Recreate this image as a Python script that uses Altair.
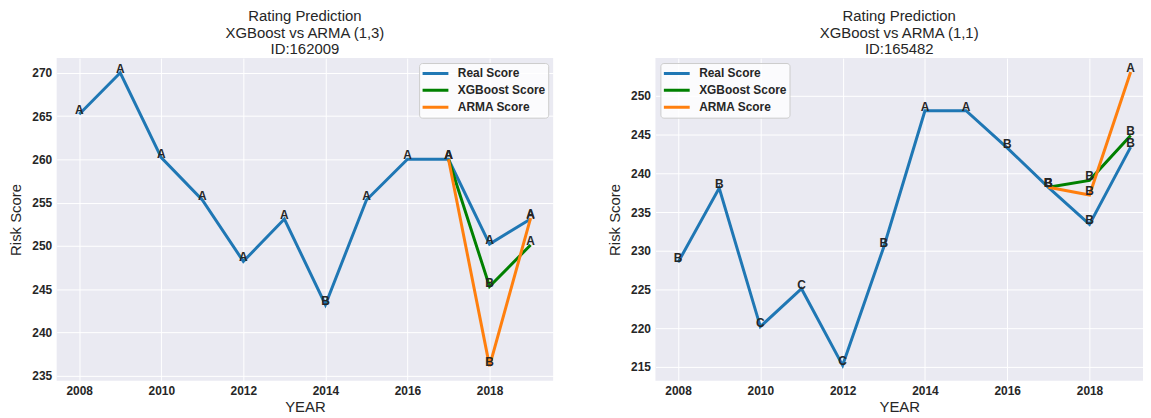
import altair as alt
import pandas as pd

SERIES = ["Real Score", "XGBoost Score", "ARMA Score"]
COLORS = ["#1f77b4", "#008000", "#ff7f0e"]

years = [2008, 2009, 2010, 2011, 2012, 2013, 2014, 2015, 2016, 2017, 2018, 2019]
pred_years = [2017, 2018, 2019]

# Left panel: ID 162009
left_real = [265.2, 270.0, 260.2, 255.3, 248.2, 253.1, 243.2, 255.3, 260.0, 260.0, 250.2, 253.1]
left_real_labels = ["A", "A", "A", "A", "A", "A", "B", "A", "A", "A", "A", "A"]
left_xgb = [260.0, 245.3, 250.1]
left_xgb_labels = ["A", "B", "A"]
left_arma = [260.0, 236.1, 253.2]
left_arma_labels = ["A", "B", "A"]
left_title = ["Rating Prediction", "XGBoost vs ARMA (1,3)", "ID:162009"]
left_yticks = [235, 240, 245, 250, 255, 260, 265, 270]

# Right panel: ID 165482
right_real = [228.5, 238.1, 220.2, 225.1, 215.2, 230.5, 248.1, 248.1, 243.3, 238.2, 233.4, 243.4]
right_real_labels = ["B", "B", "C", "C", "C", "B", "A", "A", "B", "B", "B", "B"]
right_xgb = [238.2, 239.1, 244.9]
right_xgb_labels = ["B", "B", "B"]
right_arma = [238.2, 237.2, 253.1]
right_arma_labels = ["B", "B", "A"]
right_title = ["Rating Prediction", "XGBoost vs ARMA (1,1)", "ID:165482"]
right_yticks = [215, 220, 225, 230, 235, 240, 245, 250]

x_ticks = [2008, 2010, 2012, 2014, 2016, 2018]
FONT = "Liberation Sans"


def panel(real, real_lab, xgb, xgb_lab, arma, arma_lab, ydom, yticks, xdom,
          title, orient, width):
    rows = []
    for yr, v, l in zip(years, real, real_lab):
        rows.append({"year": yr, "value": v, "label": l, "series": SERIES[0]})
    for yr, v, l in zip(pred_years, xgb, xgb_lab):
        rows.append({"year": yr, "value": v, "label": l, "series": SERIES[1]})
    for yr, v, l in zip(pred_years, arma, arma_lab):
        rows.append({"year": yr, "value": v, "label": l, "series": SERIES[2]})
    df = pd.DataFrame(rows)

    x = alt.X("year:Q", scale=alt.Scale(domain=xdom, nice=False, zero=False),
              axis=alt.Axis(values=x_ticks, format="d", title="YEAR"))
    y = alt.Y("value:Q", scale=alt.Scale(domain=ydom, nice=False, zero=False),
              axis=alt.Axis(values=yticks, title="Risk Score"))
    color = alt.Color("series:N",
                      scale=alt.Scale(domain=SERIES, range=COLORS),
                      legend=alt.Legend(orient=orient, title=None, offset=5))
    layers = []
    for s in SERIES:
        layers.append(
            alt.Chart(df).transform_filter(alt.datum.series == s)
            .mark_line(strokeWidth=3)
            .encode(x=x, y=y, color=color)
        )
    text = alt.Chart(df).mark_text(
        font=FONT, fontSize=12, fontWeight="bold", color="#262626",
        baseline="alphabetic", dy=0
    ).encode(x=x, y=y, text="label:N")
    return alt.layer(*layers, text).properties(
        width=width, height=325,
        title=alt.TitleParams(text=title, fontSize=15, font=FONT,
                              fontWeight="normal", color="#262626",
                              lineHeight=16.5, anchor="middle", offset=1),
    )


left = panel(left_real, left_real_labels, left_xgb, left_xgb_labels,
             left_arma, left_arma_labels, [234.4, 271.7], left_yticks,
             [2007.45, 2019.55], left_title, "top-right", 500)
right = panel(right_real, right_real_labels, right_xgb, right_xgb_labels,
              right_arma, right_arma_labels, [213.2, 254.9], right_yticks,
              [2007.45, 2019.3], right_title, "top-left", 491)

chart = (
    alt.hconcat(left, right, spacing=103, bounds="flush")
    .resolve_scale(color="independent")
    .resolve_legend(color="independent")
    .properties(padding={"left": 0, "top": 0, "right": 0, "bottom": 0})
    .configure_view(fill="#EAEAF2", strokeWidth=0)
    .configure_axis(
        labelFont=FONT, labelFontSize=12, labelFontWeight="bold",
        labelColor="#262626", titleFont=FONT, titleFontSize=15,
        titleFontWeight="normal", titleColor="#262626",
        gridColor="white", gridWidth=1, domain=False, ticks=False,
        labelPadding=5,
    )
    .configure_axisX(titlePadding=3)
    .configure_axisY(titlePadding=8)
    .configure_legend(
        fillColor="rgba(255,255,255,0.8)", strokeColor="#cccccc",
        cornerRadius=3, padding=2, labelFont=FONT, labelFontSize=12,
        labelFontWeight="bold", labelColor="#262626", symbolType="stroke",
        symbolStrokeWidth=3, symbolSize=676, labelOffset=8, clipHeight=17,
        rowPadding=0,
    )
)

chart.save("out.html", embed_options={"renderer": "svg", "actions": False})
